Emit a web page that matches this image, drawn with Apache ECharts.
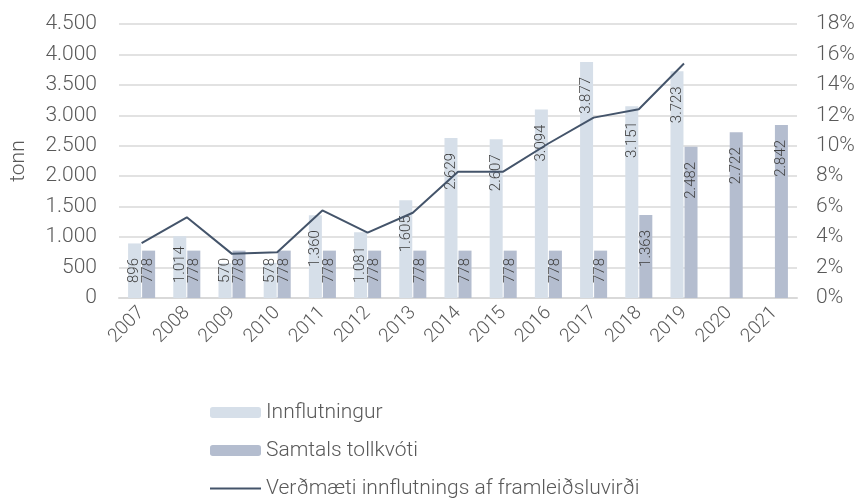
<!DOCTYPE html>
<html>
<head>
    <meta charset="UTF-8"/>
    <title>Innflutningur</title>
    <style>
        html, body{
            margin: 0;
        }
    </style>
    <script src="https://cdn.jsdelivr.net/npm/echarts@6/dist/echarts.min.js"></script>
</head>
<body>
<div id="container" style="width: 862px;height: 500px;"></div>

<script>
  var years = ['2007','2008','2009','2010','2011','2012','2013','2014','2015','2016','2017','2018','2019','2020','2021'];
  var innflutningur = [896, 1014, 570, 578, 1360, 1081, 1605, 2629, 2607, 3094, 3877, 3151, 3723, null, null];
  var tollkvoti = [778, 778, 778, 778, 778, 778, 778, 778, 778, 778, 778, 1363, 2482, 2722, 2842];
  // hlutfall i %
  var verdmaeti = [3.6, 5.3, 2.9, 3.0, 5.75, 4.3, 5.6, 8.3, 8.3, 10.15, 11.85, 12.4, 15.4, null, null];

  var font = 'Roboto';
  var txt = '#595959';

  function thous(v) {
      return String(v).replace(/\B(?=(\d{3})+(?!\d))/g, '.');
  }

  var barLabel = {
      show: true,
      position: 'insideTop',
      rotate: 90,
      align: 'right',
      verticalAlign: 'middle',
      distance: 15,
      color: '#404040',
      fontFamily: font,
      fontWeight: 300,
      fontSize: 15,
      formatter: function (p) { return thous(p.value); }
  };

  // lágar súlur: merki fest neðst eins og í Excel
  function barData(arr) {
      return arr.map(function (v) {
          if (v != null && v < 1200) {
              return { value: v, label: { position: 'insideBottom', align: 'left', distance: 15 } };
          }
          return v;
      });
  }

  var myChart = echarts.init(document.getElementById('container'));
  var option = {
      animation: false,
      textStyle: { fontFamily: font },
      grid: { left: 117, right: 65, top: 24, bottom: 202 },
      legend: {
          orient: 'vertical',
          left: 205,
          top: 397,
          height: 200,
          itemWidth: 51,
          itemHeight: 11,
          itemGap: 17,
          textStyle: { color: txt, fontSize: 21, fontWeight: 300, fontFamily: font },
          data: [
              { name: 'Innflutningur' },
              { name: 'Samtals tollkvóti' },
              { name: 'Verðmæti innflutnings af framleiðsluvirði', icon: 'path://M0,0L51,0L51,2L0,2Z' }
          ]
      },
      xAxis: {
          type: 'category',
          data: years,
          axisLine: { lineStyle: { color: '#d9d9d9', width: 2 } },
          axisTick: { show: false },
          axisLabel: { rotate: 45, color: txt, fontSize: 19, fontWeight: 300, margin: 12, interval: 0 }
      },
      yAxis: [{
          type: 'value',
          min: 0,
          max: 4500,
          interval: 500,
          name: 'tonn',
          nameLocation: 'middle',
          nameGap: 90,
          nameTextStyle: { color: txt, fontSize: 21, fontWeight: 300 },
          axisLabel: { color: txt, fontSize: 21, fontWeight: 300, margin: 22, formatter: thous },
          splitLine: { lineStyle: { color: '#d9d9d9', width: 1.5 } }
      }, {
          type: 'value',
          min: 0,
          max: 18,
          interval: 2,
          axisLabel: { color: txt, fontSize: 21, fontWeight: 300, margin: 19, formatter: '{value}%' },
          splitLine: { show: false }
      }],
      series: [{
          name: 'Innflutningur',
          type: 'bar',
          data: barData(innflutningur),
          barWidth: 13,
          barGap: '8%',
          itemStyle: { color: '#d6dfe9' },
          label: barLabel
      }, {
          name: 'Samtals tollkvóti',
          type: 'bar',
          data: barData(tollkvoti),
          barWidth: 13,
          itemStyle: { color: '#b4bdcf' },
          label: barLabel
      }, {
          name: 'Verðmæti innflutnings af framleiðsluvirði',
          type: 'line',
          yAxisIndex: 1,
          data: verdmaeti,
          symbol: 'none',
          lineStyle: { color: '#44546a', width: 2 },
          itemStyle: { color: '#44546a' },
          z: 5
      }]
  };
  myChart.setOption(option);
</script>

</body>
</html>
